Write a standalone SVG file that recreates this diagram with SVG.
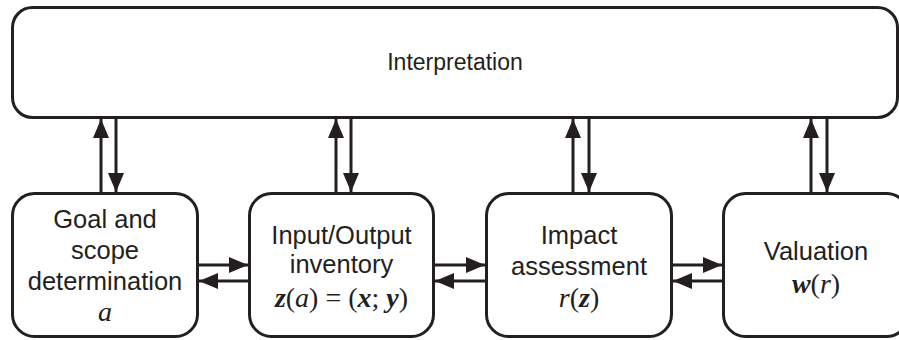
<svg xmlns="http://www.w3.org/2000/svg" width="899" height="340" viewBox="0 0 899 340">
  <style>
    .box { fill: #ffffff; stroke: #231f20; stroke-width: 3; }
    .lbl { font-family: "Liberation Sans", Arial, sans-serif; font-size: 25.5px; fill: #231f20; text-anchor: middle; }
    .top { font-family: "Liberation Sans", Arial, sans-serif; font-size: 23px; fill: #231f20; text-anchor: middle; }
    .math { font-family: "Liberation Serif", "DejaVu Serif", serif; font-size: 28px; fill: #231f20; text-anchor: middle; }
    .v { font-style: italic; }
    .b { font-style: italic; font-weight: bold; }
    .conn line { stroke: #231f20; stroke-width: 3; marker-end: url(#head); }
  </style>
  <defs>
    <marker id="head" markerUnits="userSpaceOnUse" markerWidth="19" markerHeight="16" refX="19" refY="8" orient="auto">
      <path d="M0,0 L19,8 L0,16 Z" fill="#231f20"/>
    </marker>
  </defs>

  <rect width="899" height="340" fill="#ffffff"/>

  <g id="interpretation">
    <rect class="box" x="12.5" y="7.5" width="885" height="110" rx="20"/>
    <text class="top" x="455" y="70">Interpretation</text>
  </g>

  <g id="goal-scope">
    <rect class="box" x="12.5" y="193.5" width="185" height="143" rx="22"/>
    <text class="lbl" x="105" y="228">Goal and</text>
    <text class="lbl" x="105" y="259">scope</text>
    <text class="lbl" x="105" y="290">determination</text>
    <text class="math" x="105" y="321"><tspan class="v">a</tspan></text>
  </g>

  <g id="inventory">
    <rect class="box" x="249.5" y="193.5" width="184" height="143" rx="22"/>
    <text class="lbl" x="341.5" y="244">Input/Output</text>
    <text class="lbl" x="341.5" y="273">inventory</text>
    <text class="math" x="341.5" y="307"><tspan class="b">z</tspan>(<tspan class="v">a</tspan>) = (<tspan class="b">x</tspan>; <tspan class="b">y</tspan>)</text>
  </g>

  <g id="impact">
    <rect class="box" x="486.5" y="193.5" width="185" height="143" rx="22"/>
    <text class="lbl" x="579" y="244">Impact</text>
    <text class="lbl" x="579" y="275">assessment</text>
    <text class="math" x="579" y="307"><tspan class="v">r</tspan>(<tspan class="b">z</tspan>)</text>
  </g>

  <g id="valuation">
    <rect class="box" x="723.5" y="193.5" width="185" height="143" rx="22"/>
    <text class="lbl" x="816" y="260">Valuation</text>
    <text class="math" x="816" y="293"><tspan class="b">w</tspan>(<tspan class="v">r</tspan>)</text>
  </g>

  <g id="connectors" class="conn">
    <!-- vertical links with the interpretation bar -->
    <line x1="101" y1="193" x2="101" y2="119"/>
    <line x1="116" y1="118" x2="116" y2="192"/>
    <line x1="336" y1="193" x2="336" y2="119"/>
    <line x1="351" y1="118" x2="351" y2="192"/>
    <line x1="573" y1="193" x2="573" y2="119"/>
    <line x1="589" y1="118" x2="589" y2="192"/>
    <line x1="811" y1="193" x2="811" y2="119"/>
    <line x1="827" y1="118" x2="827" y2="192"/>
    <!-- horizontal links between phases -->
    <line x1="198" y1="265" x2="248" y2="265"/>
    <line x1="249" y1="281" x2="199" y2="281"/>
    <line x1="434" y1="265" x2="485" y2="265"/>
    <line x1="486" y1="281" x2="435" y2="281"/>
    <line x1="672" y1="265" x2="722" y2="265"/>
    <line x1="723" y1="281" x2="673" y2="281"/>
  </g>
</svg>
